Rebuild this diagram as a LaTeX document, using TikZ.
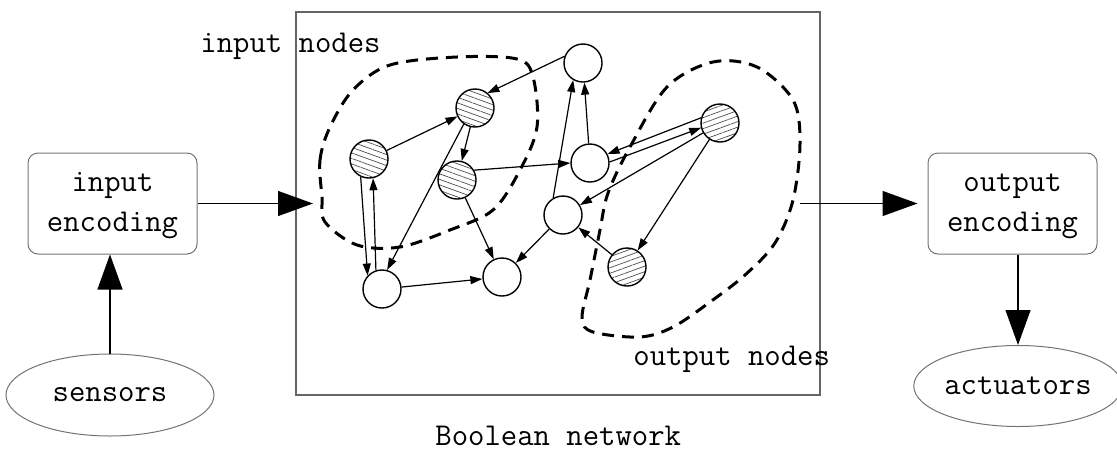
\documentclass[tikz,border=0pt]{standalone}
\usepackage{fontspec}
\usetikzlibrary{arrows.meta}
\usetikzlibrary{shapes.geometric}
\usetikzlibrary{patterns.meta}

\begin{document}
\begin{tikzpicture}[x=0.5pt,y=-0.5pt,
    font=\ttfamily\fontsize{15.9}{20}\selectfont,
    encbox/.style={draw=black!55,line width=0.5pt,rounded corners=5pt,
      minimum width=84.5pt,minimum height=50.5pt,align=center,inner sep=0pt},
    ioell/.style={draw=black!55,line width=0.5pt,ellipse,
      minimum width=104pt,minimum height=41pt,inner sep=0pt},
    bnode/.style={circle,draw,line width=0.7pt,minimum size=19pt,inner sep=0pt},
    innode/.style={bnode,pattern={Lines[angle=-20,distance=2.6pt,line width=0.35pt]},
      pattern color=black!70},
    outnode/.style={bnode,pattern={Lines[angle=20,distance=2.6pt,line width=0.35pt]},
      pattern color=black!70},
    region/.style={line width=1.5pt,dash pattern=on 6pt off 4pt},
    edge/.style={-{Triangle[length=6pt,width=4pt]},line width=0.6pt},
    big/.style={-{Triangle[length=17.5pt,width=12.5pt]},line width=0.6pt}]

  \useasboundingbox (0,0) rectangle (1117,451);

  %------------------
  % Boolean network の枠
  %------------------
  \draw[draw=black!60,line width=0.6pt] (296,12) rectangle (820,395);
  \node[anchor=base west,inner sep=0pt] (bnlabel) at (435,445) {Boolean network};

  %------------------
  % 入力・出力ノードの範囲（点線）
  %------------------
  \draw[region] plot[smooth cycle,tension=0.55] coordinates {
    (322,197) (320,160) (330,127) (353,90) (390,65) (457,57) (517,59)
    (533,77) (537,127) (520,170) (493,210) (450,230) (400,247)
    (357,245) (325,222)};
  \draw[region] plot[smooth cycle,tension=0.55] coordinates {
    (608,193) (630,147) (667,87) (713,62) (757,67) (793,100)
    (800,143) (793,200) (775,243) (745,275) (710,302) (673,327)
    (640,337) (593,332) (582,318) (590,280) (600,230)};

  \node[anchor=base west,inner sep=0pt] (inlabel) at (200,52) {input nodes};
  \node[anchor=base west,inner sep=0pt] (outlabel) at (633,365) {output nodes};

  %------------------
  % ノード
  %------------------
  \node[innode] (h1) at (475,108) {};
  \node[innode] (h2) at (369,159) {};
  \node[innode] (h3) at (457,180) {};
  \node[outnode] (h4) at (720,123) {};
  \node[outnode] (h5) at (627,267) {};
  \node[bnode] (o1) at (583,63) {};
  \node[bnode] (o2) at (590,163) {};
  \node[bnode] (o3) at (563,215) {};
  \node[bnode] (b1) at (382,289) {};
  \node[bnode] (b2) at (502,277) {};

  % 辺
  \draw[edge] (o1.160) -- (h1.50);
  \draw[edge] (h2) -- (h1);
  \draw[edge] (h1) -- (h3);
  \draw[edge] (h1.235) -- (b1.75);
  \draw[edge] (h2.245) -- (b1.137);
  \draw[edge] (b1.108) -- (h2.282);
  \draw[edge] (h3.30) -- (o2.180);
  \draw[edge] (h3) -- (b2);
  \draw[edge] (b1) -- (b2);
  \draw[edge] (o3) -- (b2);
  \draw[edge] (o3.120) -- (o1.240);
  \draw[edge] (o2) -- (o1);
  \draw[edge] (h4.164) -- (o2.27);
  \draw[edge] (o2.3) -- (h4.194);
  \draw[edge] (h4) -- (o3);
  \draw[edge] (h4) -- (h5);
  \draw[edge] (h5) -- (o3);

  %------------------
  % 入力側・出力側
  %------------------
  \node[encbox] (inenc) at (112.5,203.5) {\strut input\\\strut encoding};
  \node[encbox] (outenc) at (1012.5,203.5) {\strut output\\\strut encoding};
  \node[ioell] (sensors) at (110,395) {sensors};
  \node[ioell,minimum width=100pt,minimum height=40.5pt] (actuators) at (1018,386) {actuators};

  \coordinate (netin) at (313,203.5);
  \coordinate (netout) at (800,203.5);

  \draw[big] (sensors) -- (sensors |- inenc.south);
  \draw[big] (inenc) -- (netin);
  \draw[big,shorten >=5pt] (netout) -- (outenc);
  \draw[big] (actuators |- outenc.south) -- (actuators);
\end{tikzpicture}
\end{document}
